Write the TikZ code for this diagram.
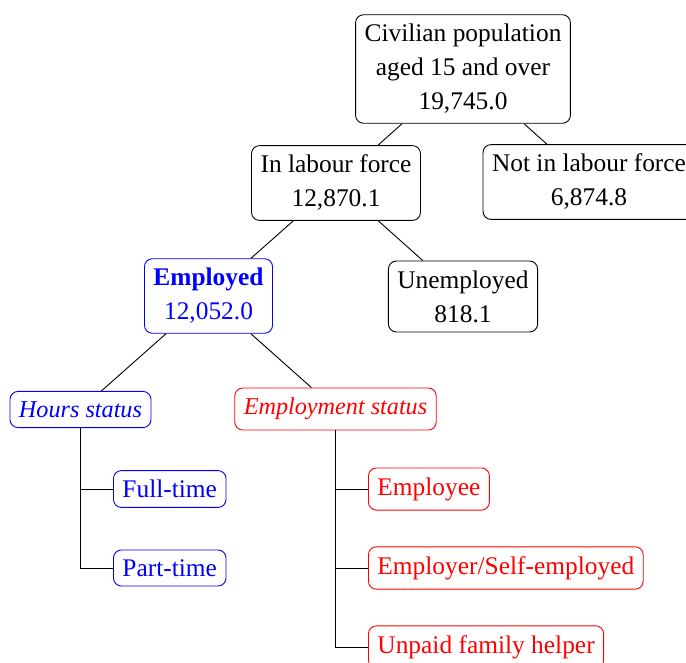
\documentclass[tikz,border=0pt]{standalone}
\usepackage{fontspec}
\setmainfont{Liberation Serif}
\begin{document}
\begin{tikzpicture}[x=1pt,y=-1pt,
  box/.style={draw=black, rounded corners=8pt, inner xsep=9pt, inner ysep=9.5pt, align=center, line width=0.9pt},
  bluebox/.style={box, draw=blue, text=blue},
  redbox/.style={box, draw=red, text=red},
  itbox/.style={font=\fontsize{24.2}{34}\selectfont\itshape, inner ysep=10pt},
  conn/.style={draw=black, line width=0.9pt},
  font=\fontsize{25.4}{34}\selectfont]
\useasboundingbox (0,0) rectangle (686,662);
\clip (0,0) rectangle (686,662);
\node[box] (root) at (463,69) {Civilian population\\aged 15 and over\\19,745.0};
\node[box] (labour) at (336,183) {In labour force\\12,870.1};
\node[box] (notlabour) at (589,182) {Not in labour force\\6,874.8};
\node[bluebox] (employed) at (208.5,296) {\textbf{Employed}\\12,052.0};
\node[box] (unemployed) at (463,296.5) {Unemployed\\818.1};
\node[bluebox, itbox] (hours) at (80.5,409.5) {Hours status};
\node[redbox, itbox] (empstatus) at (335.5,409) {Employment status};
\node[bluebox, anchor=west] (full) at (113,489) {Full-time};
\node[bluebox, anchor=west] (part) at (113,568) {Part-time};
\node[redbox, anchor=west] (employee) at (368,489) {Employee};
\node[redbox, anchor=west] (employer) at (368,568) {Employer/Self-employed};
\node[redbox, anchor=west] (unpaid) at (368,647) {Unpaid family helper};
\draw[conn] (root) -- (labour);
\draw[conn] (root) -- (notlabour);
\draw[conn] (labour) -- (employed);
\draw[conn] (labour) -- (unemployed);
\draw[conn] (employed) -- (hours);
\draw[conn] (employed) -- (empstatus);
\draw[conn] (hours.south) |- (full.west);
\draw[conn] (hours.south) |- (part.west);
\draw[conn] (empstatus.south) |- (employee.west);
\draw[conn] (empstatus.south) |- (employer.west);
\draw[conn] (empstatus.south) |- (unpaid.west);
\end{tikzpicture}
\end{document}
